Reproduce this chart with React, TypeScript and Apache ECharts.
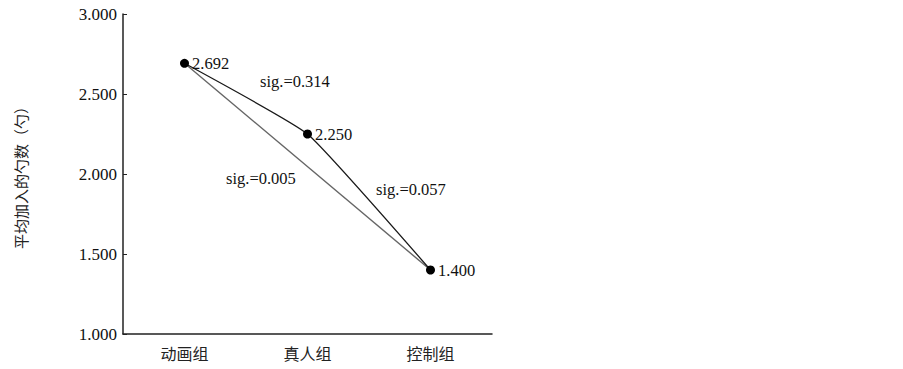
import React, { useEffect, useRef } from "react";
import * as echarts from "echarts";

const categories = ["动画组", "真人组", "控制组"];
const means = [2.692, 2.25, 1.4];
const directLine = [2.692, null, 1.4];
const yTicks = { min: 1, max: 3, interval: 0.5 };
const sigLabels = [
  { text: "sig.=0.314", left: 260, top: 73 },
  { text: "sig.=0.005", left: 226, top: 170 },
  { text: "sig.=0.057", left: 376, top: 181 },
];

const serif = "'Liberation Serif', 'Times New Roman', serif";
const cjk = "'Noto Sans CJK SC', sans-serif";

export default function App() {
  const ref = useRef<HTMLDivElement>(null);
  useEffect(() => {
    if (!ref.current) return;
    const chart = echarts.init(ref.current, null, { renderer: "svg" });
    chart.setOption({
      animation: false,
      backgroundColor: "#ffffff",
      grid: { left: 123, top: 14, width: 369, height: 320 },
      xAxis: {
        type: "category",
        data: categories,
        boundaryGap: true,
        axisLine: { lineStyle: { color: "#222", width: 1.5 } },
        axisTick: { inside: true, length: 4, alignWithLabel: true, lineStyle: { color: "#222" } },
        axisLabel: { color: "#222", fontFamily: cjk, fontSize: 16, margin: 11 },
      },
      yAxis: {
        type: "value",
        min: yTicks.min,
        max: yTicks.max,
        interval: yTicks.interval,
        name: "平均加入的勺数（勺）",
        nameLocation: "middle",
        nameGap: 95,
        nameTextStyle: { color: "#222", fontFamily: cjk, fontSize: 15 },
        splitLine: { show: false },
        axisLine: { show: true, lineStyle: { color: "#222", width: 1.5 } },
        axisTick: { show: true, inside: true, length: 4, lineStyle: { color: "#222" } },
        axisLabel: {
          color: "#111",
          fontFamily: serif,
          fontSize: 17,
          margin: 6,
          formatter: (v: number) => v.toFixed(3),
        },
      },
      series: [
        {
          type: "line",
          data: directLine,
          connectNulls: true,
          symbol: "none",
          lineStyle: { color: "#666", width: 1.4 },
          z: 1,
        },
        {
          type: "line",
          data: means,
          smooth: 0.12,
          symbol: "circle",
          symbolSize: 9,
          itemStyle: { color: "#000" },
          lineStyle: { color: "#1a1a1a", width: 1.3 },
          label: {
            show: true,
            position: "right",
            distance: 3,
            color: "#111",
            fontFamily: serif,
            fontSize: 16.5,
            formatter: (p: any) => Number(p.value).toFixed(3),
          },
          z: 2,
        },
      ],
      graphic: sigLabels.map((s) => ({
        type: "text",
        left: s.left,
        top: s.top,
        style: { text: s.text, fill: "#111", font: `16.5px ${serif}` },
      })),
    });
    return () => chart.dispose();
  }, []);
  return <div ref={ref} style={{ position: "fixed", left: 0, top: 0, width: 903, height: 369 }} />;
}
